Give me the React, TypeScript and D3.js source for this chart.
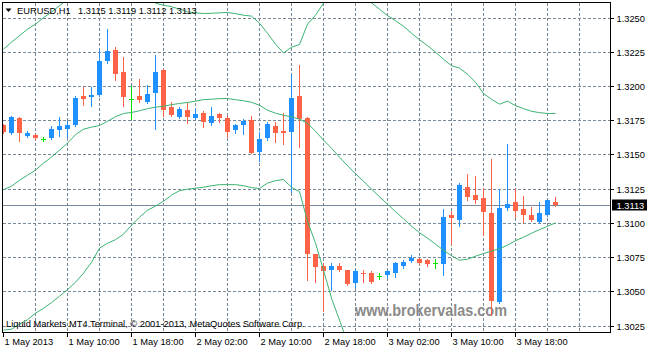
import React from "react";
import * as d3 from "d3";

// ---- data (EURUSD H1, bar 0 = 1 May 2013 02:00) ----
const opens = [1.31713,1.31653,1.31764,1.31635,1.31642,1.31609,1.31620,1.31677,1.31686,1.31713,
1.31925,1.31920,1.31932,1.32181,1.32261,1.32103,1.31905,1.31925,1.31883,1.31949,
1.32115,1.31847,1.31774,1.31823,1.31767,1.31803,1.31726,1.31794,1.31764,1.31677,
1.31713,1.31750,1.31516,1.31618,1.31711,1.31669,1.31662,1.31927,1.31767,1.30769,
1.30683,1.30654,1.30683,1.30654,1.30561,1.30634,1.30634,1.30612,1.30617,1.30630,
1.30685,1.30722,1.30734,1.30727,1.30707,1.30700,1.31056,1.31023,1.31263,1.31202,
1.31182,1.31073,1.30422,1.31109,1.31153,1.31100,1.31056,1.31007,1.31056,1.3115];
const highs = [1.31721,1.31781,1.31772,1.31669,1.31648,1.31628,1.31706,1.31772,1.31745,1.31927,
1.31991,1.31993,1.32261,1.32415,1.32283,1.32208,1.32000,1.32049,1.32005,1.32225,
1.32122,1.31883,1.31847,1.31879,1.31830,1.31816,1.31847,1.31803,1.31779,1.31721,
1.31755,1.31779,1.31662,1.31733,1.31740,1.31799,1.32086,1.32152,1.31772,1.30771,
1.30705,1.30707,1.30707,1.30658,1.30666,1.30654,1.30649,1.30634,1.30654,1.30715,
1.30727,1.30766,1.30742,1.30734,1.30734,1.31102,1.31085,1.31292,1.31355,1.31341,
1.31258,1.31465,1.31246,1.31577,1.31244,1.31195,1.31114,1.31153,1.31169,1.3119];
const lows = [1.31655,1.31648,1.31599,1.31628,1.31611,1.31596,1.31611,1.31635,1.31628,1.31710,
1.31859,1.31854,1.31925,1.32164,1.32042,1.31854,1.31762,1.31883,1.31878,1.31682,
1.31781,1.31779,1.31768,1.31730,1.31761,1.31701,1.31713,1.31737,1.31628,1.31657,
1.31648,1.31509,1.31452,1.31604,1.31594,1.31577,1.31222,1.31555,1.30586,1.30569,
1.30357,1.30508,1.30647,1.30545,1.30532,1.30566,1.30559,1.30588,1.30605,1.30601,
1.30671,1.30715,1.30696,1.30685,1.30671,1.30617,1.30849,1.30975,1.31165,1.31143,
1.30910,1.30330,1.30417,1.31092,1.31043,1.31007,1.31012,1.31001,1.31052,1.3112];
const closes = [1.31662,1.31774,1.31655,1.31657,1.31623,1.31609,1.31689,1.31706,1.31715,1.31913,
1.31905,1.31932,1.32181,1.32254,1.32086,1.31920,1.31905,1.31896,1.31940,1.32100,
1.31823,1.31786,1.31830,1.31774,1.31794,1.31735,1.31781,1.31767,1.31662,1.31713,
1.31745,1.31511,1.31611,1.31721,1.31657,1.31655,1.31913,1.31762,1.30769,1.30674,
1.30649,1.30685,1.30654,1.30550,1.30649,1.30623,1.30566,1.30612,1.30647,1.30703,
1.30715,1.30744,1.30707,1.30700,1.30707,1.31043,1.31034,1.31275,1.31190,1.31165,
1.31080,1.30428,1.31105,1.31141,1.31085,1.31056,1.31019,1.31073,1.31165,1.3113];

const bandUpper = [1.32268,1.32320,1.32367,1.32415,1.32451,1.32499,1.32539,1.32586,1.32634,1.32699,
1.32758,1.32802,1.32860,1.32919,1.32948,1.32948,1.32904,1.32831,1.32714,1.32604,
1.32590,1.32579,1.32561,1.32541,1.32534,1.32529,1.32531,1.32534,1.32537,1.32528,
1.32517,1.32510,1.32458,1.32385,1.32305,1.32241,1.32283,1.32303,1.32451,1.32517,
1.32604,1.32699,1.32758,1.32772,1.32714,1.32656,1.32607,1.32561,1.32513,1.32477,
1.32436,1.32385,1.32338,1.32294,1.32247,1.32195,1.32148,1.32130,1.32086,1.32027,
1.31945,1.31903,1.31867,1.31889,1.31856,1.31834,1.31815,1.31805,1.31799,1.31799];
const bandMiddle = [1.31242,1.31268,1.31311,1.31348,1.31385,1.31436,1.31480,1.31531,1.31582,1.31644,
1.31684,1.31699,1.31711,1.31742,1.31775,1.31799,1.31806,1.31819,1.31834,1.31845,
1.31852,1.31863,1.31872,1.31879,1.31889,1.31900,1.31903,1.31907,1.31908,1.31900,
1.31892,1.31881,1.31859,1.31823,1.31801,1.31786,1.31774,1.31757,1.31728,1.31669,
1.31604,1.31545,1.31480,1.31417,1.31359,1.31304,1.31246,1.31191,1.31136,1.31081,
1.31030,1.30975,1.30928,1.30888,1.30844,1.30800,1.30760,1.30727,1.30734,1.30756,
1.30776,1.30793,1.30811,1.30837,1.30870,1.30895,1.30924,1.30950,1.30975,1.31000];
const bandLower = [1.30216,1.30223,1.30260,1.30292,1.30340,1.30376,1.30417,1.30464,1.30512,1.30566,
1.30632,1.30712,1.30815,1.30851,1.30877,1.30917,1.30983,1.31041,1.31092,1.31122,
1.31158,1.31202,1.31235,1.31246,1.31253,1.31260,1.31271,1.31279,1.31279,1.31279,
1.31271,1.31257,1.31251,1.31290,1.31308,1.31317,1.31260,1.31228,1.31012,1.30851,
1.30654,1.30450,1.30289,1.30128,1.30033,1.29967,1.29887,1.29821,1.29759,1.29686,
1.29624,1.29566,1.29518,1.29482,1.29441,1.29405,1.29372,1.29324,1.29383,1.29485,
1.29609,1.29683,1.29756,1.29785,1.29883,1.29956,1.30033,1.30095,1.30143,1.30179];

const priceTicks = [1.3025, 1.3050, 1.3075, 1.3100, 1.3125, 1.3150, 1.3175, 1.3200, 1.3225, 1.3250];
const timeTickBars = [0, 8, 16, 24, 32, 40, 48, 56, 64];
const timeTickLabels = ["1 May 2013", "1 May 10:00", "1 May 18:00", "2 May 02:00", "2 May 10:00",
  "2 May 18:00", "3 May 02:00", "3 May 10:00", "3 May 18:00"];
const gridBars = [4, 8, 12, 16, 20, 24, 28, 32, 36, 40, 44, 48, 52, 56, 60, 64, 68, 72];
const symbolLabel = "EURUSD,H1";
const headerValues = ["1.3115", "1.3119", "1.3112", "1.3113"];
const lastPrice = 1.3113;
const copyright = "Liquid Markets MT4 Terminal, \u00A9 2001-2013, MetaQuotes Software Corp.";
const watermark = "www.brokervalas.com";

const W = 650, H = 350;
const plotL = 2.5, plotR = 610.5, plotT = 2.5, plotB = 332.5;
const FONT = "'Liberation Sans', Arial, sans-serif";
const GRID = "#778899";
const UP = "#1e90ff", DOWN = "#ff6347", DOJI = "#00e000", BAND = "#3cb371";

export default function App() {
  const x = d3.scaleLinear().domain([0, 76]).range([3.5, 611.5]);
  const y = d3.scaleLinear().domain([1.3025, 1.3250]).range([325.5, 17.5]);
  const line = d3.line<number>().x((_, i) => x(i)).y((d) => y(d));
  const py = (p: number) => Math.round(y(p));

  const candles = opens.map((o, i) => {
    const c = closes[i], h = highs[i], l = lows[i];
    const cx = x(i);
    if (Math.abs(o - c) < 1e-7) {
      const yy = py(o) + 0.5;
      return (
        <g key={i} stroke={DOJI} strokeWidth={1}>
          <line x1={cx} x2={cx} y1={py(h)} y2={py(l) + 1} />
          <line x1={cx - 2.5} x2={cx + 2.5} y1={yy} y2={yy} />
        </g>
      );
    }
    const col = c > o ? UP : DOWN;
    const top = py(Math.max(o, c));
    const bot = py(Math.min(o, c));
    return (
      <g key={i}>
        <line x1={cx} x2={cx} y1={py(h)} y2={py(l) + 1} stroke={col} strokeWidth={1} />
        <rect x={cx - 2.5} y={top} width={5} height={Math.max(1, bot - top)} fill={col} />
      </g>
    );
  });

  const yLast = py(lastPrice) + 0.5;

  return (
    <svg width={W} height={H} style={{ position: "absolute", left: 0, top: 0, background: "#fff" }}
      fontFamily={FONT}>
      <rect x={0} y={0} width={W} height={H} fill="#fff" />
      <defs>
        <clipPath id="plot">
          <rect x={3} y={3} width={607} height={329} />
        </clipPath>
      </defs>
      {/* grid */}
      <g stroke={GRID} strokeWidth={1} strokeDasharray="3,2" shapeRendering="crispEdges">
        {priceTicks.map((p) => (
          <line key={p} x1={3} x2={610} y1={py(p) + 0.5} y2={py(p) + 0.5} />
        ))}
        {gridBars.map((b) => (
          <line key={b} x1={x(b)} x2={x(b)} y1={3} y2={332} />
        ))}
      </g>
      {/* watermark */}
      <text x={355} y={316} fontSize={17} fontWeight="bold" fill="#8a8a8a"
        textLength={152} lengthAdjust="spacingAndGlyphs">{watermark}</text>
      <g clipPath="url(#plot)">
        {/* current price line */}
        <line x1={3} x2={610} y1={yLast} y2={yLast} stroke={GRID} strokeWidth={1} shapeRendering="crispEdges" />
        <g shapeRendering="crispEdges">{candles}</g>
        <g fill="none" stroke={BAND} strokeWidth={1}>
          <path d={line(bandUpper) || ""} />
          <path d={line(bandMiddle) || ""} />
          <path d={line(bandLower) || ""} />
        </g>
      </g>
      {/* frame */}
      <g stroke="#000" strokeWidth={1} shapeRendering="crispEdges" fill="none">
        <rect x={plotL} y={plotT} width={plotR - plotL} height={plotB - plotT} />
      </g>
      {/* header */}
      <path d="M5.5,8.5 L11.5,8.5 L8.5,12 Z" fill="#000" />
      <text x={17} y={14} fontSize={9.3} fill="#000">{symbolLabel}</text>
      <text x={78} y={14} fontSize={9.3} fill="#000">{headerValues.join(" ")}</text>
      {/* copyright */}
      <text x={6} y={327} fontSize={9.3} fill="#000">{copyright}</text>
      {/* right axis */}
      <g shapeRendering="crispEdges">
        {priceTicks.map((p) => (
          <g key={p}>
            <line x1={611} x2={614} y1={py(p) + 0.5} y2={py(p) + 0.5} stroke="#000" />
            <text x={616.5} y={py(p) + 4} fontSize={9.3} fill="#000">{p.toFixed(4)}</text>
          </g>
        ))}
      </g>
      <rect x={612} y={yLast - 6} width={35} height={11} fill="#000" />
      <text x={616.5} y={yLast + 3.5} fontSize={9.3} fill="#fff">{lastPrice.toFixed(4)}</text>
      {/* bottom axis */}
      <g shapeRendering="crispEdges">
        {timeTickBars.map((b, i) => (
          <g key={b}>
            <line x1={x(b)} x2={x(b)} y1={333} y2={337} stroke="#000" />
            <text x={x(b) + 1} y={344.5} fontSize={9.3} fill="#000">{timeTickLabels[i]}</text>
          </g>
        ))}
      </g>
    </svg>
  );
}
